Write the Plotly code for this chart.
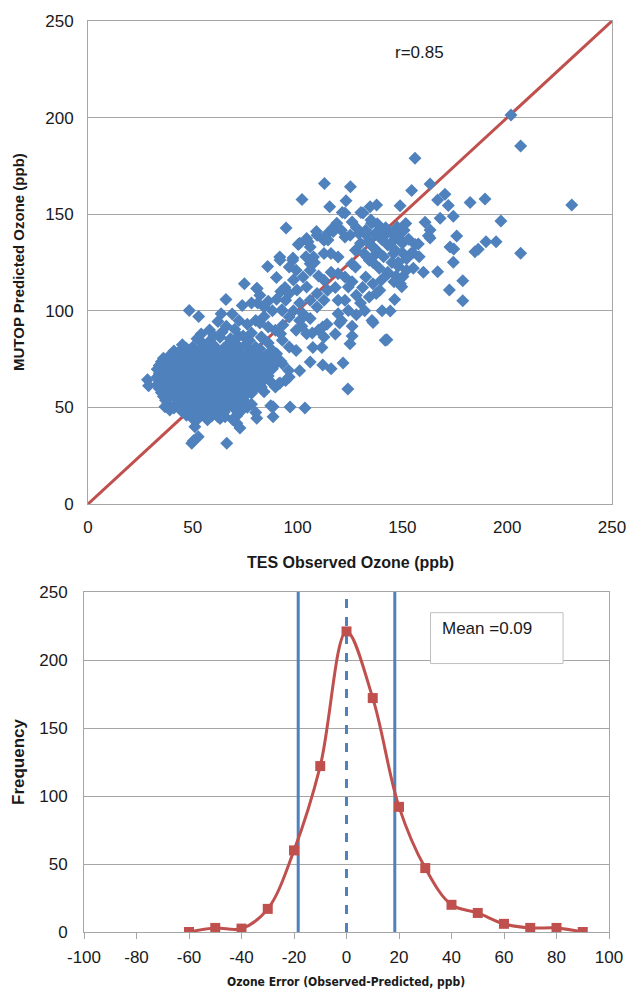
import plotly.graph_objects as go

# ---------------- DATA ----------------
# Scatter: (TES observed, MUTOP predicted)
SCATTER_POINTS = [
    # dense cluster
    (52,85.5),(58,84.2),(63,86.3),(68,85.1),(72,87),(77,84.6),(83,86),
    (45,82.4),(50,81.3),(55,83),(60,82.2),(66,81.6),(70,83.4),(75,82),(80,81.1),(86,83.3),
    (41,79.2),(47,80.5),(53,79.6),(57,80.8),(62,79.3),(65,80.9),(69,79.8),(73,80.6),(78,79.1),(82,80.2),(88,79.5),
    (39,76.8),(43,78.3),(49,77.2),(54,78.6),(59,77.5),(64,78.1),(67,76.9),(71,78.4),(76,77.3),(81,78),(85,76.6),(90,77.8),
    (36,75.5),(41,76.1),(46,75),(51,76.4),(56,75.3),(61,76.6),(66,74.8),(70,76.2),(74,75.4),(79,76.7),(84,74.9),(87,75.8),
    (35,73.6),(39,74.2),(44,73.1),(48,74.6),(53,73.5),(58,74.1),(62,72.9),(65,74.4),(69,73.3),(73,74.8),(77,73.7),(82,74.3),(86,72.8),(92,73.9),
    (34,71.7),(38,72.5),(42,71.2),(46,72.3),(50,71.6),(55,72.8),(59,71.4),(63,72.1),(67,70.9),(71,72.4),(75,71.3),(80,72.2),(84,70.8),(89,71.9),
    (33,69.8),(37,70.4),(41,69.3),(45,70.6),(49,69.5),(53,70.2),(57,69.1),(61,70.5),(65,69.4),(69,70.1),(73,68.9),(78,70.3),(83,69.2),(88,70),
    (34,67.6),(38,68.3),(43,67.2),(47,68.5),(51,67.4),(55,68.1),(60,66.9),(64,68.4),(68,67.3),(72,68),(76,66.8),(81,67.9),(85,68.2),
    (33,65.7),(36,66.4),(40,65.2),(44,66.3),(48,65.5),(52,66.1),(56,65),(60,66.5),(63,65.3),(67,66.2),(71,64.9),(75,66),(80,65.4),(86,66.3),
    (34,63.6),(37,64.4),(41,63.1),(45,64.2),(49,63.5),(53,64.3),(57,63),(61,64.1),(65,63.4),(70,64.5),(74,63.2),(78,64),(83,63.3),
    (33,61.7),(36,62.3),(40,61.2),(44,62.4),(48,61.5),(52,62.1),(56,60.9),(60,62.2),(64,61.4),(68,62),(72,61.1),(77,62.3),(82,61.5),(88,62.4),
    (34,59.8),(38,60.4),(42,59.3),(46,60.2),(50,59.6),(54,60.3),(58,59.1),(62,60.4),(66,59.5),(71,60.1),(76,59.2),(80,60),
    (35,57.7),(39,58.3),(43,57.2),(47,58.4),(51,57.5),(55,58.1),(59,57),(63,58.2),(68,57.4),(73,58),(78,57.3),(84,58.1),
    (36,55.6),(40,56.3),(44,55.2),(48,56.4),(53,55.5),(57,56.1),(61,55),(66,56.2),(70,55.4),(75,56),
    (37,53.7),(42,54.3),(46,53.1),(50,54.2),(55,53.5),(60,54.1),(64,53),(69,54.3),(74,53.6),
    (38,51.8),(43,52.4),(48,51.2),(52,52.3),(57,51.5),(62,52.1),(67,51),(72,52.2),(78,51.6),
    (41,49.7),(46,50.3),(51,49.4),(56,50.2),(61,49.6),(66,50.4),(70,49.2),(76,50.1),
    (45,47.8),(50,48.4),(55,47.3),(60,48.2),(65,47.6),(73,48.1),(80,47.4),
    (47,45.9),(54,46.4),(59,45.5),(64,46.2),(71,45.7),
    (50,44.1),(57,43.6),(63,44.3),(69,43.8),
    # low side
    (28.4,64.3),(28.9,61.2),(36.7,50.4),(39,48.7),(48.7,48.7),(51.9,43.5),(51,40),(52.6,34.8),(49.5,31.4),(50.3,32.8),
    (66.2,31.4),(62,45.2),(65.4,45.2),(71,41.8),(72.5,39.3),(71.6,47),(80.5,44.4),(88.3,45.2),(88.3,50.4),(87.2,50.8),
    (96.4,50.2),(103.5,49.7),(124,59.5),(74.4,53.6),(77.7,62.2),(82.7,60.5),(89.4,60.5),(91,62.2),(94.3,63.9),(96,65.7),
    (84.4,65.7),(79.4,70.8),(91.6,62.6),(101,69),(95.7,69.1),(106,73.5),(112,72),(116,70),(121.7,73),(92.7,72.6),
    (89.4,74.3),(86,77.8),(81.1,79.5),(99.3,79.5),(96,81.2),(92.7,84.7),(107.3,81),(111.6,81),(126,87),(125,83),
    (142.6,85),(107,88.5),(112,91.6),(120,93.7),(136,94),(89.4,89.9),(91.9,88.1),(86,91.6),(82.7,86.4),(99.3,89.9),
    (104.3,88.1),(112.6,86.4),
    # middle band
    (48.3,100.2),(52.8,97.1),(57,83),(50,78.7),(46,76),(63.5,98.5),(68.8,98.3),(65.8,105.8),(73.6,102.8),(74.6,114),
    (80.7,111.5),(85.7,122.9),(91.5,127.9),(89.9,117.2),(58,90),(54,88),(60,87),(64,89),(68,85.5),(62,94.5),
    (66,92),(70,90.5),(72,95),(76,93),(78,88.5),(74,87),(80,95),(84,97),(88,100),(92.4,100.4),
    (93,92.6),(82,93.7),(81,104),(84,102),(86,105),(90,106),(78,104),(82,108),(92,110),(94,112),
    (98,116),(80.5,111.6),(99.7,110.8),(101,104),(96,96.8),(101,95),(102.6,98.5),(106,105.4),(109.3,102),(112.6,105.4),
    (119.3,105.4),(122.6,105.4),(119.3,98.5),(120.9,95),(124.2,100.2),(106,96),(102,92),(98,100),(110,90),(114,93),
    (118,88),(126,92),(128,98),(130,104),(132,100),(135.5,95),(140.3,100),(144.2,99.9),(94.3,105.4),(96,108.9),
    (92.7,100.2),
    # upper band
    (104.3,137.4),(106,133),(109.3,139.1),(112.6,136.5),(114.3,140),(116.8,142.9),(120.9,141.7),(122.6,138.2),(125.1,139.1),(127.6,131.3),
    (129.2,140),(132.5,141.7),(134.2,136.5),(135.9,133),(137.5,129.6),(139.2,141.7),(142.5,140),(145.8,136.5),(147.5,143.4),(149.2,140),
    (150.8,141.7),(151.6,145.2),(154.1,129.6),(145.8,129.6),(134.2,126.1),(131.7,129.6),(125.9,124.4),(119.3,127.9),(115.9,129.6),(112.6,129.6),
    (107.6,127.9),(106,124.4),(97.7,126.1),(99.3,121),(96,122.7),(102.6,117.5),(104.3,112.3),(109.3,108.9),(112.6,115.8),(114.3,110.6),
    (119.3,119.2),(122.6,117.5),(124.2,112.3),(127.6,122.7),(132.5,117.5),(135.9,114),(137.5,108.9),(134.2,107.1),(139.2,110.6),(131,112),
    (128,108),(126,115),(118,112),(116,120),(110,118),(108,125),(104,128),(101,135),(97.8,127.3),(91.6,126.3),
    (106,121),(118.7,145.3),(117,141),(122.6,150.6),(131.2,150.6),(135.3,145.3),(109,141),(105,135.8),(114.5,136.6),(135,147),
    (138,145),(142,143),(145,140),(148,138),(137,140),(140,137),(143,134),(146,132),(150,130),(135,134),
    (138,131),(141,128),(145,125),(148,123),(152,127),(155,130),(136,125),(139,122),(143,119),(147,118),
    (133,128),(130,135),(132,140),(128,143),(126,146),(143,120),(146,115),(140,116),(150.3,117.7),(149.7,112.5),
    (146.3,105.9),(141.8,84.7),(94.5,142.9),(100.3,134.3),
    # top / right outliers
    (102.1,157.6),(112.8,165.9),(125.2,164.2),(115.3,153.8),(123.1,156.9),(121.3,150.9),(130.2,150.9),(134.6,153.9),(137.7,154.8),(148.9,154.4),
    (154.4,162.3),(156,179),(163.2,165.6),(170.3,160.3),(166.8,157.4),(171.9,154.5),(182.3,156.1),(189.4,157.9),(201.8,201.3),(206.4,185.3),
    (230.8,154.8),(174.3,149),(197,146.5),(160.8,145.8),(163.2,141.8),(163.2,137.7),(168,147.9),(175.9,138.7),(172.7,133),(174.5,132),
    (157.6,134.6),(184.6,130.6),(186.2,131.8),(189.9,135.8),(194.7,135.8),(206.4,129.8),(174.3,125.1),(155.2,122),(166.8,120.2),(178.8,115.6),
    (172.4,110.8),(178.8,105.2),(149,114),(152,121),(148,125),(150,135),(153,137),(158,128),(160,120),(156.1,134.3),
    (162.4,138.8),
]
TES_OBS = [p[0] for p in SCATTER_POINTS]
MUTOP_PRED = [p[1] for p in SCATTER_POINTS]

ONE_TO_ONE = [0, 250]
R_TEXT = "r=0.85"

# Error histogram
ERROR_BINS = [-60, -50, -40, -30, -20, -10, 0, 10, 20, 30, 40, 50, 60, 70, 80, 90]
FREQUENCY = [0, 3, 2.5, 17, 60, 122, 221, 172, 92, 47, 20, 14, 6, 3, 3, 0]
STD_LINES = [-18.4, 18.4]
MEAN_LINE = 0
MEAN_TEXT = "Mean =0.09"

TOP_TICKS = [0, 50, 100, 150, 200, 250]
BOT_X_TICKS = [-100, -80, -60, -40, -20, 0, 20, 40, 60, 80, 100]
BOT_Y_TICKS = [0, 50, 100, 150, 200, 250]

# ---------------- STYLE ----------------
W, H = 630, 996
BLUE = "#4F81BD"
RED = "#C0504D"
GRID = "#A6A6A6"
FONT = "Arial, Liberation Sans, sans-serif"
TXT = "#1a1a1a"

def px_x(p):
    return p / W

def px_y(p):
    return 1 - p / H

fig = go.Figure()

# top panel
fig.add_trace(go.Scatter(x=ONE_TO_ONE, y=ONE_TO_ONE, mode="lines",
                         line=dict(color=RED, width=3), xaxis="x", yaxis="y",
                         showlegend=False, hoverinfo="skip"))
fig.add_trace(go.Scatter(x=TES_OBS, y=MUTOP_PRED, mode="markers",
                         marker=dict(symbol="diamond", size=10, color=BLUE,
                                     line=dict(width=0)),
                         xaxis="x", yaxis="y", showlegend=False))

# bottom panel
for v in STD_LINES:
    fig.add_trace(go.Scatter(x=[v, v], y=[0, 250], mode="lines",
                             line=dict(color=BLUE, width=3), xaxis="x2", yaxis="y2",
                             showlegend=False, hoverinfo="skip"))
fig.add_trace(go.Scatter(x=[MEAN_LINE, MEAN_LINE], y=[0, 250], mode="lines",
                         line=dict(color=BLUE, width=3, dash="dash"), xaxis="x2", yaxis="y2",
                         showlegend=False, hoverinfo="skip"))
fig.add_trace(go.Scatter(x=ERROR_BINS, y=FREQUENCY, mode="lines+markers",
                         line=dict(color=RED, width=3, shape="spline", smoothing=1.0),
                         marker=dict(symbol="square", size=10, color=RED),
                         xaxis="x2", yaxis="y2", showlegend=False))

tickfont = dict(family=FONT, size=17, color=TXT)
common = dict(showline=True, linecolor=GRID, linewidth=1, mirror=True,
              tickfont=tickfont, zeroline=False, automargin=False)

fig.update_layout(
    width=W, height=H, margin=dict(l=0, r=0, t=0, b=0, autoexpand=False),
    paper_bgcolor="white", plot_bgcolor="white",
    xaxis=dict(domain=[px_x(88), px_x(612)], range=[0, 250], tickvals=TOP_TICKS,
               showgrid=False, anchor="y", ticklabelstandoff=8, **common),
    yaxis=dict(domain=[px_y(504), px_y(21)], range=[0, 250], tickvals=TOP_TICKS,
               showgrid=True, gridcolor=GRID, gridwidth=1, anchor="x",
               ticklabelstandoff=10, **common),
    xaxis2=dict(domain=[px_x(84), px_x(609)], range=[-100, 100], tickvals=BOT_X_TICKS,
                ticktext=[str(t) for t in BOT_X_TICKS],
                showgrid=False, anchor="y2", ticks="outside", ticklen=6, tickcolor=GRID,
                ticklabelstandoff=4, **common),
    yaxis2=dict(domain=[px_y(932), px_y(592)], range=[0, 250], tickvals=BOT_Y_TICKS,
                showgrid=True, gridcolor=GRID, gridwidth=1, anchor="x2",
                ticklabelstandoff=12, **common),
)

# Mean box
fig.add_shape(type="rect", xref="x2", yref="y2", x0=32, x1=82.5, y0=197.4, y1=234.8,
              fillcolor="white", line=dict(color="#BFBFBF", width=1), layer="above")

annos = [
    dict(text=R_TEXT, xref="x", yref="y", x=158, y=233.5,
         font=dict(family=FONT, size=17, color=TXT)),
    dict(text=MEAN_TEXT, xref="x2", yref="y2", x=35.5, y=223, xanchor="left",
         font=dict(family=FONT, size=17, color=TXT)),
    dict(text="<b>MUTOP Predicted Ozone (ppb)</b>", xref="paper", yref="paper",
         x=px_x(19), y=px_y(262), textangle=-90,
         font=dict(family=FONT, size=15, color=TXT)),
    dict(text="<b>TES Observed Ozone (ppb)</b>", xref="paper", yref="paper",
         x=px_x(350), y=px_y(562),
         font=dict(family=FONT, size=16, color=TXT)),
    dict(text="<b>Frequency</b>", xref="paper", yref="paper",
         x=px_x(18), y=px_y(762), textangle=-90,
         font=dict(family=FONT, size=17, color=TXT)),
    dict(text="<b>Ozone Error (Observed-Predicted, ppb)</b>", xref="paper", yref="paper",
         x=px_x(346), y=px_y(982),
         font=dict(family="DejaVu Sans Condensed, Liberation Sans, sans-serif", size=12, color=TXT)),
]
for a in annos:
    a.setdefault("xanchor", "center")
    a.setdefault("yanchor", "middle")
    a["showarrow"] = False
    fig.add_annotation(**a)

fig.write_html("out.html")
